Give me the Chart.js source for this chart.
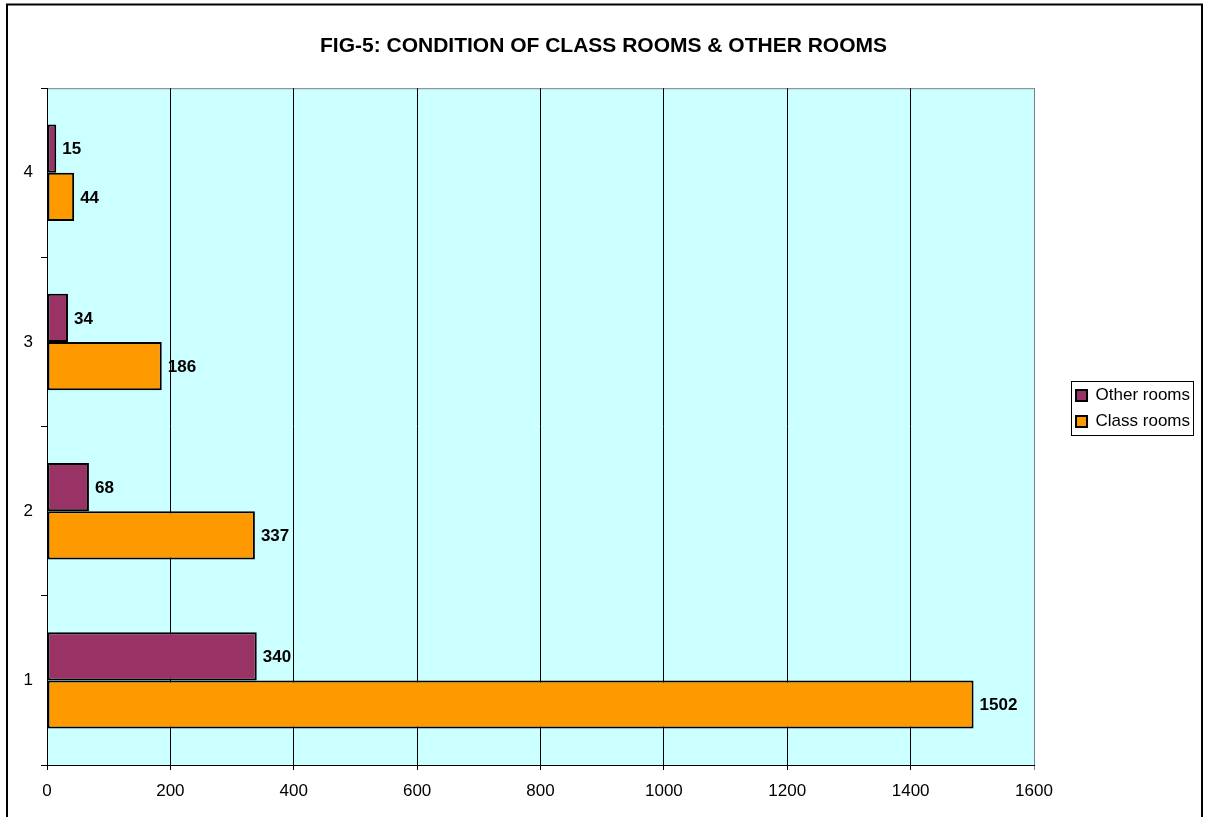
<!DOCTYPE html>
<html>
<head>
<meta charset="utf-8">
<script src="https://cdn.jsdelivr.net/npm/chart.js@4"></script>
<style>
html,body{margin:0;padding:0;background:#fff;}
#wrap{width:1205px;height:817px;position:relative;}
</style>
</head>
<body>
<div id="wrap"><canvas id="c" width="1205" height="817"></canvas></div>
<script>
const categories = ['1', '2', '3', '4'];
const otherRooms = [340, 68, 34, 15];
const classRooms = [1502, 337, 186, 44];
const xTicks = [0, 200, 400, 600, 800, 1000, 1200, 1400, 1600];
const titleText = 'FIG-5: CONDITION OF CLASS ROOMS & OTHER ROOMS';

const FONT = '"Liberation Sans", Arial, Helvetica, sans-serif';

const frame = {
  id: 'frame',
  beforeDraw(chart) {
    const {ctx, chartArea: a} = chart;
    ctx.save();
    ctx.fillStyle = '#fff';
    ctx.fillRect(0, 0, chart.width, chart.height);
    ctx.fillStyle = '#CCFFFF';
    ctx.fillRect(a.left, a.top, a.right - a.left, a.bottom - a.top);
    ctx.strokeStyle = '#808080';
    ctx.lineWidth = 1;
    ctx.beginPath();
    ctx.moveTo(a.left, a.top + 0.5);
    ctx.lineTo(a.right + 0.5, a.top + 0.5);
    ctx.lineTo(a.right + 0.5, a.bottom);
    ctx.stroke();
    ctx.restore();
  },
  afterLayout(chart) {
    const lg = chart.legend;
    if (lg) {
      const shift = 33;
      lg.left += shift;
      lg.right += shift;
    }
    const tb = chart.titleBlock;
    if (tb) {
      tb.right += 40;
    }
  },
  afterDraw(chart) {
    const {ctx} = chart;
    ctx.save();
    ctx.strokeStyle = '#000';
    ctx.lineWidth = 2;
    ctx.strokeRect(7, 4.5, 1195, 830);
    const lg = chart.legend;
    if (lg && lg.legendHitBoxes && lg.legendHitBoxes.length) {
      const hb = lg.legendHitBoxes;
      let l = Infinity, r = -Infinity;
      hb.forEach(h => { l = Math.min(l, h.left); r = Math.max(r, h.left + h.width); });
      const t = hb[0].top, b = hb[hb.length - 1].top + hb[hb.length - 1].height;
      ctx.lineWidth = 1;
      ctx.strokeStyle = '#000';
      ctx.strokeRect(Math.round(l - 5) + 0.5, Math.round(t - 6) + 0.5, Math.round(r - l + 8), Math.round(b - t + 11));
    }
    ctx.restore();
  },
  afterDatasetsDraw(chart) {
    const {ctx} = chart;
    ctx.save();
    ctx.font = 'bold 17px ' + FONT;
    ctx.fillStyle = '#000';
    ctx.textAlign = 'left';
    ctx.textBaseline = 'middle';
    chart.data.datasets.forEach((ds, di) => {
      const meta = chart.getDatasetMeta(di);
      meta.data.forEach((bar, i) => {
        ctx.fillText(String(ds.data[i]), bar.x + 6, bar.y + 1);
      });
    });
    ctx.restore();
  }
};

new Chart(document.getElementById('c'), {
  type: 'bar',
  data: {
    labels: categories,
    datasets: [
      {label: 'Other rooms', data: otherRooms, backgroundColor: '#993366', borderColor: '#000', borderWidth: 2, borderSkipped: false},
      {label: 'Class rooms', data: classRooms, backgroundColor: '#FF9900', borderColor: '#000', borderWidth: 2, borderSkipped: false}
    ]
  },
  options: {
    indexAxis: 'y',
    responsive: false,
    animation: false,
    devicePixelRatio: 1,
    barPercentage: 1,
    categoryPercentage: 0.57,
    layout: {padding: {left: 0, right: 38, top: 0, bottom: 0}},
    plugins: {
      title: {
        display: true,
        text: titleText,
        color: '#000',
        font: {family: FONT, size: 21, weight: 'bold'},
        padding: {top: 34, bottom: 29}
      },
      legend: {
        display: true,
        position: 'right',
        labels: {
          boxWidth: 11,
          boxHeight: 11,
          padding: 9,
          color: '#000',
          font: {family: FONT, size: 17}
        }
      },
      tooltip: {enabled: false}
    },
    scales: {
      x: {
        type: 'linear',
        min: 0,
        max: 1600,
        afterBuildTicks(scale) { scale.ticks = xTicks.map(v => ({value: v})); },
        afterFit(scale) { scale.height = 52; },
        grid: {
          color: ctx => (ctx.tick && ctx.tick.value === 1600) ? '#808080' : '#000',
          lineWidth: 1,
          tickLength: 5,
          drawTicks: true
        },
        border: {display: true, color: '#000', width: 1},
        ticks: {color: '#000', font: {family: FONT, size: 17}, padding: 11, maxRotation: 0, callback: v => String(v)}
      },
      y: {
        type: 'category',
        reverse: true,
        offset: true,
        afterFit(scale) { scale.width = 47; },
        grid: {
          offset: true,
          drawOnChartArea: false,
          drawTicks: true,
          tickLength: 6,
          color: '#000'
        },
        border: {display: true, color: '#000', width: 1},
        ticks: {color: '#000', font: {family: FONT, size: 17}, padding: 8}
      }
    }
  },
  plugins: [frame]
});
</script>
</body>
</html>
